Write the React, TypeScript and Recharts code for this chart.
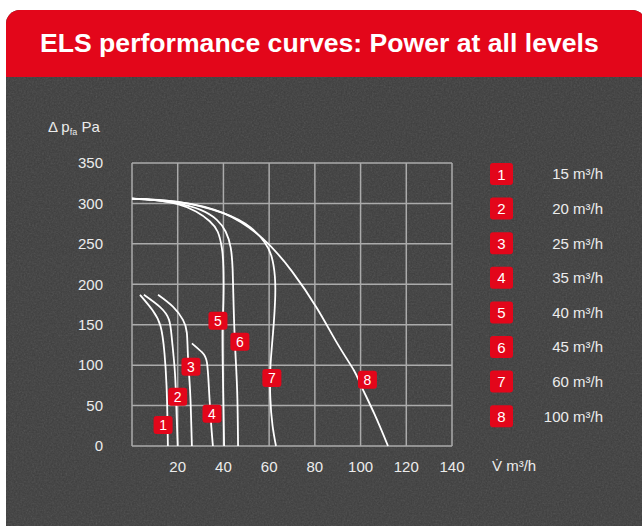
import { ComposedChart, Line, Scatter, XAxis, YAxis, CartesianGrid } from "recharts";

const X_TICKS = [0, 20, 40, 60, 80, 100, 120, 140];
const Y_TICKS = [0, 50, 100, 150, 200, 250, 300, 350];

const LEVELS = ["1", "2", "3", "4", "5", "6", "7", "8"];
const FLOWS = ["15 m³/h", "20 m³/h", "25 m³/h", "35 m³/h", "40 m³/h", "45 m³/h", "60 m³/h", "100 m³/h"];

// curve points: [flow m³/h, Δp Pa]
const C1 = [[3.5, 187], [9, 168], [12.5, 148], [14.2, 115], [15.1, 75], [15.5, 35], [15.7, 0]];
const C2 = [[5.2, 187], [12.2, 172], [16.2, 156], [17.5, 131], [18.8, 90], [19.5, 40], [20, 0]];
const C3 = [[11.4, 187], [18, 172], [22.3, 156], [24, 140], [24.5, 110], [25.4, 69], [25.9, 30], [26.2, 0]];
const C4 = [[26.2, 127], [30.6, 116], [32.8, 103], [33.7, 69], [34.6, 28], [35.4, 0]];
const C5 = [[0, 306], [10, 304], [20, 299], [28, 290], [34, 278], [37.5, 265], [39.3, 245], [40, 220], [40, 180], [39.6, 145], [39.7, 100], [40, 50], [40.3, 0]];
const C6 = [[0, 306], [10, 304], [20, 300], [30, 292], [37, 280], [41, 265], [43.2, 245], [44, 220], [44.3, 190], [45, 130], [46, 69], [46.4, 0]];
const C7 = [[0, 306], [20, 302], [40, 288], [52, 270], [58, 252], [61, 235], [62.5, 210], [62.6, 180], [61.7, 140], [60.6, 100], [60.5, 60], [61.5, 25], [63, 0]];
const C8 = [[0, 306], [20, 302], [40, 288], [57, 257], [70, 216], [81, 170], [90, 126], [97, 94], [100, 76], [106, 40], [112, 0]];

const CURVES = [C1, C2, C3, C4, C5, C6, C7, C8];

// where the number badges sit on the curves
const BADGE_X = [13.6, 20, 25.8, 35, 37.6, 47.2, 61.2, 103];
const BADGE_Y = [26, 61, 98, 40, 155, 129, 84, 82];

const RED = "#e3061a";
const FONT = "'Liberation Sans', Arial, sans-serif";

const badges = BADGE_X.map((x, i) => ({ x, y: BADGE_Y[i], label: LEVELS[i] }));

function Badge(props: any) {
  const { cx, cy, payload } = props;
  return (
    <g>
      <rect x={cx - 9.5} y={cy - 9} width={19} height={18} rx={3} fill={RED} />
      <text x={cx} y={cy + 5} textAnchor="middle" fill="#fff" fontSize={14} fontFamily={FONT}>
        {payload.label}
      </text>
    </g>
  );
}

const tickStyle = { fill: "#ececec", fontSize: 15, fontFamily: FONT };

export default function App() {
  return (
    <div style={{ position: "absolute", left: 0, top: 0, width: 642, height: 527, overflow: "hidden", background: "#fff" }}>
      {/* card */}
      <div style={{ position: "absolute", left: 6, top: 10, width: 640, height: 516, borderRadius: "14px 14px 0 0", overflow: "hidden", background: "#3d3d3d" }}>
        <svg width={640} height={516} style={{ position: "absolute", left: 0, top: 0 }}>
          <filter id="grain">
            <feTurbulence type="fractalNoise" baseFrequency="0.6" numOctaves={4} seed={4} />
            <feColorMatrix type="saturate" values="0" />
          </filter>
          <rect x={0} y={67} width={640} height={449} filter="url(#grain)" opacity={0.16} />
          <rect x={0} y={0} width={640} height={67} fill={RED} />
        </svg>
      </div>

      {/* title, legend, axis captions */}
      <svg width={642} height={527} style={{ position: "absolute", left: 0, top: 0 }}>
        <text x={40} y={52} fill="#fff" fontSize={26.6} fontWeight="bold" fontFamily={FONT}>
          ELS performance curves: Power at all levels
        </text>
        <text x={48} y={132} fill="#ececec" fontSize={15} fontFamily={FONT}>
          Δ p<tspan fontSize={9} dy={3}>fa</tspan><tspan dy={-3}> Pa</tspan>
        </text>
        <text x={492} y={471} fill="#ececec" fontSize={15} fontFamily={FONT}>
          V̇ m³/h
        </text>
        {FLOWS.map((f, i) => {
          const cy = 174 + i * 34.6;
          return (
            <g key={f}>
              <rect x={490} y={cy - 11} width={23} height={22} rx={3} fill={RED} />
              <text x={501.5} y={cy + 5.5} textAnchor="middle" fill="#fff" fontSize={15} fontFamily={FONT}>
                {LEVELS[i]}
              </text>
              <text x={603} y={cy + 5.4} textAnchor="end" fill="#ececec" fontSize={15} fontFamily={FONT}>
                {f}
              </text>
            </g>
          );
        })}
      </svg>

      <div style={{ position: "absolute", left: 0, top: 0 }}>
        <ComposedChart width={642} height={527} margin={{ top: 163, right: 190, bottom: 51, left: 92 }}>
          <CartesianGrid stroke="#ababab" strokeWidth={1.5} fill="none" />
          <XAxis
            type="number" dataKey="x" domain={[0, 140]} ticks={X_TICKS} allowDataOverflow
            axisLine={false} tickLine={false} tickSize={0} tickMargin={15} height={30}
            tick={tickStyle} tickFormatter={(v) => (v === 0 ? "" : String(v))}
          />
          <YAxis
            type="number" domain={[0, 350]} ticks={Y_TICKS} width={40}
            axisLine={false} tickLine={false} tickSize={0} tickMargin={29} tick={tickStyle}
          />
          {CURVES.map((c, i) => (
            <Line
              key={i} data={c.map(([x, y]) => ({ x, y }))} dataKey="y" type="natural"
              stroke="#fff" strokeWidth={1.8} dot={false} isAnimationActive={false}
            />
          ))}
          <Scatter data={badges} dataKey="y" shape={Badge} isAnimationActive={false} />
        </ComposedChart>
      </div>
    </div>
  );
}
